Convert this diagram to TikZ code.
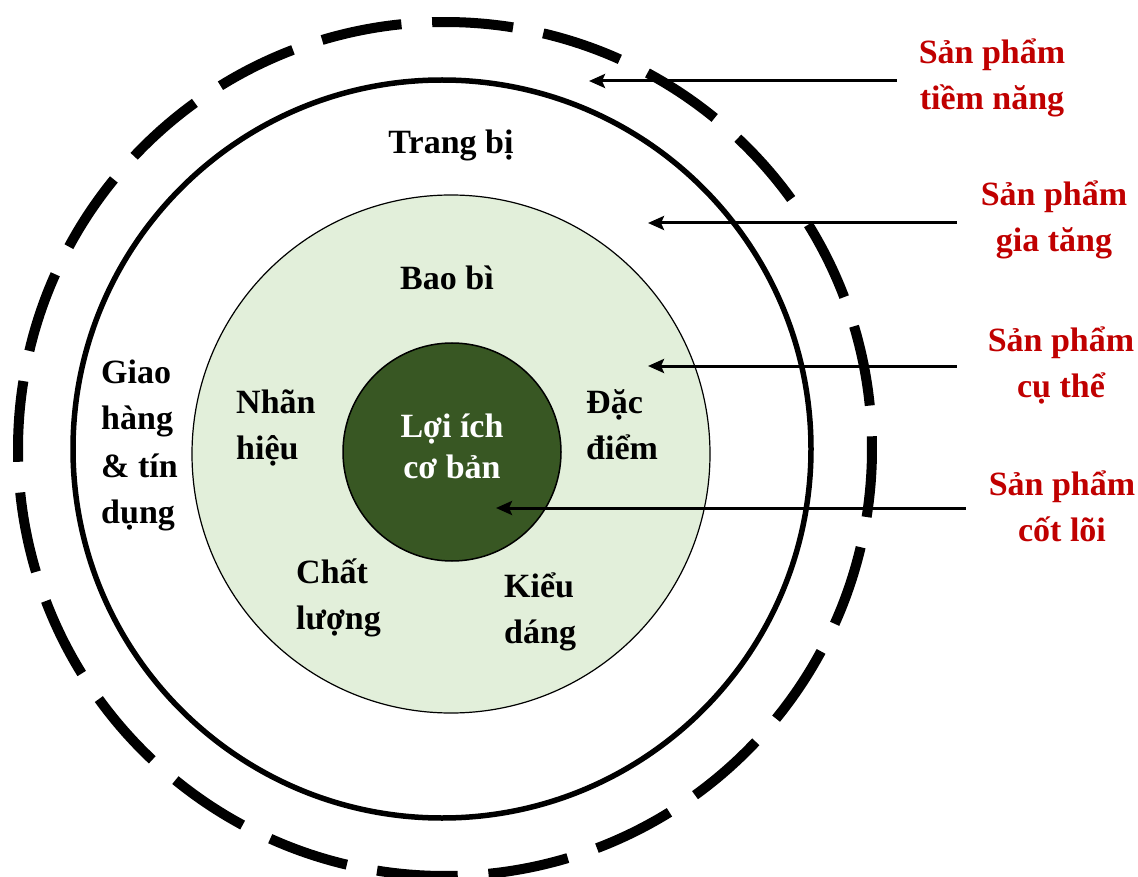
\documentclass[tikz,border=0pt]{standalone}
\usepackage{fontspec}
\setmainfont{Liberation Serif}
\usetikzlibrary{arrows.meta,calc}
\definecolor{coregreen}{HTML}{385723}
\definecolor{palegreen}{HTML}{E2EFDA}
\definecolor{labelred}{HTML}{C00000}
% multi-line label whose baseline is that of its first line
\newcommand{\txtrows}[2]{\begin{tabular}[t]{@{}#1@{}}#2\end{tabular}}

\begin{document}
\begin{tikzpicture}[x=1pt,y=-1pt,
  lbl/.style={font=\bfseries\fontsize{34}{46}\selectfont, inner sep=0pt, anchor=base},
  lblw/.style={lbl, anchor=base west},
  redlbl/.style={lbl, text=labelred},
  ring/.style={circle, inner sep=0pt, outer sep=0pt, draw},
  arr/.style={line width=3pt, -{Stealth[length=16pt,width=14pt,inset=3pt]}},
]
\useasboundingbox (0,0) rectangle (1138,877);

% product levels as concentric rings
\node[ring, line width=5.5pt, minimum size=738pt] (augmented) at (442,449) {};
\node[ring, fill=palegreen, line width=1.2pt, minimum size=518pt] (actual) at (451,454) {};
\node[ring, fill=coregreen, line width=1.5pt, minimum size=218pt] (core) at (452,452) {};
\coordinate (potential) at (445,449);
\draw[line width=10pt, dash pattern=on 81pt off 30.79pt]
  (potential) ++(268.3:427) arc[start angle=268.3, delta angle=360, radius=427];

% texts inside the rings
\node[lbl] (equip) at (451,154) {Trang bị};
\node[lbl] (pack) at (447,290) {Bao bì};
\node[lblw, font=\bfseries\fontsize{34}{47}\selectfont] (deliv) at (101,383) {\txtrows{l}{Giao\\hàng\\\& tín\\dụng}};
\node[lblw] (brand) at (236,413) {\txtrows{l}{Nhãn\\hiệu}};
\node[lblw] (feat) at (586,413) {\txtrows{l}{Đặc\\điểm}};
\node[lblw] (qual) at (296,583) {\txtrows{l}{Chất\\lượng}};
\node[lblw] (style) at (504,597) {\txtrows{l}{Kiểu\\dáng}};
\node[lbl, text=white, font=\bfseries\fontsize{34}{41}\selectfont] (benefit) at (452,437) {\txtrows{c}{Lợi ích\\cơ bản}};

% level names on the right
\node[redlbl] (lblP) at (992,64) {\txtrows{c}{Sản phẩm\\tiềm năng}};
\node[redlbl] (lblA) at (1054,206) {\txtrows{c}{Sản phẩm\\gia tăng}};
\node[redlbl] (lblR) at (1061,352) {\txtrows{c}{Sản phẩm\\cụ thể}};
\node[redlbl] (lblC) at (1062,495) {\txtrows{c}{Sản phẩm\\cốt lõi}};

% pointers into each level
\coordinate (tipP) at (589,81);
\coordinate (tipA) at (648,223);
\coordinate (tipR) at (648,366);
\coordinate (tipC) at (496,508);
\draw[arr] ($(lblP.west |- tipP)+(-22,0)$) -- (tipP);
\draw[arr] ($(lblA.west |- tipA)+(-24,0)$) -- (tipA);
\draw[arr] ($(lblR.west |- tipR)+(-31,0)$) -- (tipR);
\draw[arr] ($(lblC.west |- tipC)+(-23,0)$) -- (tipC);
\end{tikzpicture}
\end{document}
